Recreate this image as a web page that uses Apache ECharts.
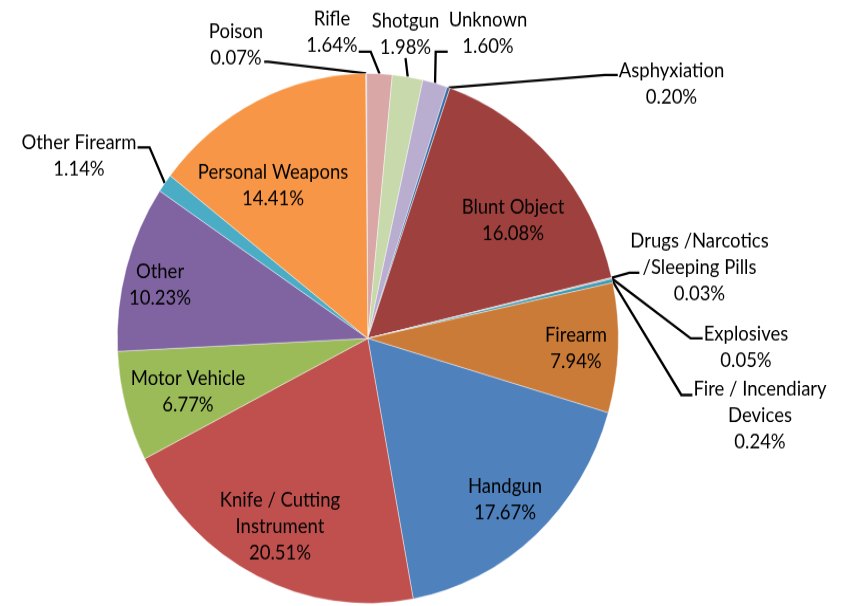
<!DOCTYPE html>
<html><head><meta charset="utf-8">
<script src="https://cdn.jsdelivr.net/npm/echarts@6/dist/echarts.min.js"></script>
<style>
html,body{margin:0;padding:0;background:#fff;overflow:hidden;}
#wrap{width:850px;height:606px;overflow:hidden;position:relative;background:#fff;}
#chart{width:850px;height:573px;transform:scaleY(1.0576);transform-origin:0 0;}
</style></head><body>
<div id="wrap"><div id="chart"></div></div>
<script>
// ---- data (slice order clockwise from 12 o'clock) ----
const categories = ['Poison', 'Rifle', 'Shotgun', 'Unknown', 'Asphyxiation', 'Blunt Object',
  'Drugs /Narcotics\n/Sleeping Pills', 'Explosives', 'Fire / Incendiary\nDevices', 'Firearm',
  'Handgun', 'Knife / Cutting\nInstrument', 'Motor Vehicle', 'Other', 'Other Firearm', 'Personal Weapons'];
const shares = [0.07, 1.64, 1.98, 1.60, 0.20, 16.08, 0.03, 0.05, 0.24, 7.94, 17.67, 20.51, 6.77, 10.23, 1.14, 14.41];
const insideLabels = ['Blunt Object', 'Firearm', 'Handgun', 'Knife / Cutting\nInstrument', 'Motor Vehicle', 'Other', 'Personal Weapons'];

// ---- styling / layout ----
const colors = ['#A9C1DF', '#D9A7A6', '#C8D9AC', '#B9AECF', '#3D6DA6', '#9E413E', '#7D9A47', '#664F83',
  '#3C9AB2', '#CB7B38', '#4F81BD', '#C0504D', '#9BBB59', '#8064A2', '#4BACC6', '#F79646'];
const S = 606 / 573;           // vertical stretch of the reference picture
const CX = 367.8, CY = 338.4 / S, R = 250.5;
// label block centres (picture pixels)
const labelCenters = [[236, 45], [332, 32.5], [405.5, 34], [488, 33], [671.5, 84], [513, 220.5],
  [699.5, 268], [746, 347], [760, 416], [576, 348.5], [505, 500], [280, 526.5], [188, 392],
  [160, 285], [79, 155.5], [273, 185.5]];
// leader line attachments for outside labels
const leaders = {
  0: {side: 'right', dy: 16.7, elbow: 4},
  1: {side: 'right', dy: 19.2, elbow: 12},
  2: {side: 'bottom', dy: 24},
  3: {side: 'left', dy: 18.7, elbow: 12},
  4: {side: 'left', dy: -9, elbow: 13},
  6: {side: 'left', dy: 4.7, elbow: 10, inset: 10},
  7: {side: 'left', dy: -8.7, elbow: 12},
  8: {side: 'left', dy: -21, elbow: 11},
  14: {side: 'right', dy: -8.2, elbow: 12}
};
const START = 90.5;

const total = shares.reduce((a, b) => a + b, 0);
function edgePoint(i) {
  let before = 0;
  for (let k = 0; k < i; k++) before += shares[k];
  const mid = (before + shares[i] / 2) / total * 2 * Math.PI - (90 - START) * Math.PI / 180;
  return [CX + R * Math.sin(mid), CY - R * Math.cos(mid)];
}

const chart = echarts.init(document.getElementById('chart'));
chart.setOption({
  animation: false,
  color: colors,
  series: [{
    type: 'pie',
    center: [CX, CY],
    radius: R,
    startAngle: START,
    clockwise: true,
    avoidLabelOverlap: false,
    emphasis: {disabled: true},
    itemStyle: {borderColor: 'rgba(255,255,255,0.7)', borderWidth: 0.6},
    label: {
      color: '#000', fontFamily: 'Lato', fontSize: 18.5, lineHeight: 25,
      textBorderWidth: 0,
      formatter: p => p.name + '\n' + shares[p.dataIndex].toFixed(2) + '%'
    },
    labelLine: {show: true, length: 10, length2: 10, lineStyle: {color: '#000', width: 2.3}},
    labelLayout: function (p) {
      const i = p.dataIndex;
      const c = labelCenters[i];
      const x = c[0], y = c[1] / S;
      const out = {x: x, y: y, align: 'center', verticalAlign: 'middle'};
      const L = leaders[i];
      if (L) {
        const w = p.labelRect.width;
        const start = (p.labelLinePoints && p.labelLinePoints[0]) ? p.labelLinePoints[0] : edgePoint(i);
        const ay = y + L.dy / S;
        if (L.side === 'bottom') {
          out.labelLinePoints = [start, [x, ay], [x, ay]];
        } else {
          const ax = L.side === 'left' ? x - w / 2 - 1 + (L.inset || 0) : x + w / 2 + 1;
          const ex = L.side === 'left' ? ax - L.elbow : ax + L.elbow;
          out.labelLinePoints = [start, [ex, ay], [ax, ay]];
        }
      }
      return out;
    },
    data: categories.map((n, i) => {
      const inside = insideLabels.indexOf(n) >= 0;
      return {
        name: n, value: shares[i],
        label: {position: inside ? 'inside' : 'outside'},
        labelLine: {show: !inside}
      };
    })
  }]
});
</script>
</body></html>
